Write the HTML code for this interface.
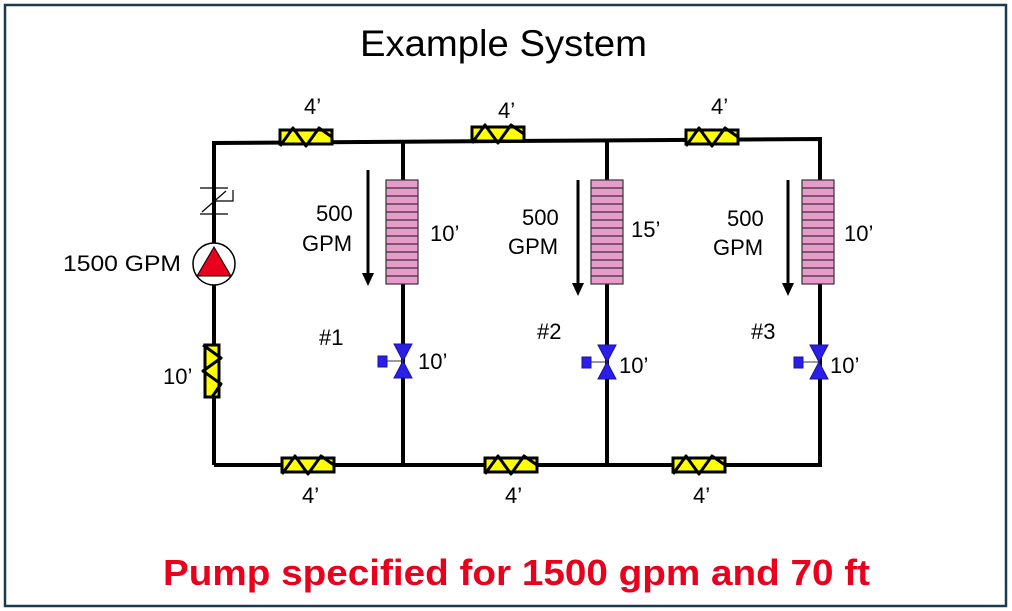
<!DOCTYPE html>
<html><head><meta charset="utf-8"><style>
html,body{margin:0;padding:0;background:#fff;}
svg{display:block;}
text{font-family:"Liberation Sans",Arial,sans-serif;}
</style></head><body>
<svg width="1012" height="611" viewBox="0 0 1012 611" xmlns="http://www.w3.org/2000/svg">
<defs>
<g id="fitH">
  <rect x="-26" y="-7" width="52" height="14" fill="#ffff00" stroke="#000" stroke-width="3"/>
  <polyline points="-26,9 -13,-9 0,9 13,-9 26,0" fill="none" stroke="#000" stroke-width="3" stroke-linejoin="round"/>
</g>
<g id="coil">
  <rect x="0" y="0" width="32" height="104" fill="#e89acb" stroke="#333" stroke-width="1.2"/>
  <g stroke="#333" stroke-width="1.2">
    <line x1="0" y1="8" x2="32" y2="8"/><line x1="0" y1="16" x2="32" y2="16"/><line x1="0" y1="24" x2="32" y2="24"/>
    <line x1="0" y1="32" x2="32" y2="32"/><line x1="0" y1="40" x2="32" y2="40"/><line x1="0" y1="48" x2="32" y2="48"/>
    <line x1="0" y1="56" x2="32" y2="56"/><line x1="0" y1="64" x2="32" y2="64"/><line x1="0" y1="72" x2="32" y2="72"/>
    <line x1="0" y1="80" x2="32" y2="80"/><line x1="0" y1="88" x2="32" y2="88"/><line x1="0" y1="96" x2="32" y2="96"/>
  </g>
</g>
<g id="valve">
  <polygon points="-9,-17 9,-17 0,0" fill="#2a1ee8" stroke="#1a12a0" stroke-width="1"/>
  <polygon points="-9,17 9,17 0,0" fill="#2a1ee8" stroke="#1a12a0" stroke-width="1"/>
  <line x1="-18" y1="0" x2="0" y2="0" stroke="#333" stroke-width="1"/>
  <rect x="-25" y="-5" width="9" height="11" fill="#2a1ee8" stroke="#1a12a0" stroke-width="1"/>
</g>
<g id="arrow">
  <line x1="0" y1="0" x2="0" y2="105" stroke="#000" stroke-width="3"/>
  <polygon points="-6,103 6,103 0,116" fill="#000"/>
</g>
</defs>
<rect x="5" y="5" width="1001" height="601" fill="#fff" stroke="#1a3a50" stroke-width="2.5"/>
<text x="360" y="56" font-size="37" textLength="287" lengthAdjust="spacingAndGlyphs">Example System</text>
<g stroke="#000" stroke-width="4" fill="none" stroke-linejoin="miter">
  <polyline points="214,465 214,143 820,139 820,465 214,465"/>
  <line x1="403" y1="142" x2="403" y2="465"/>
  <line x1="607" y1="140" x2="607" y2="465"/>
</g>
<use href="#fitH" x="306" y="137"/>
<use href="#fitH" x="498" y="134"/>
<use href="#fitH" x="712" y="137"/>
<use href="#fitH" x="308" y="465"/>
<use href="#fitH" x="511" y="465"/>
<use href="#fitH" x="699" y="465"/>
<g transform="translate(212,371) rotate(90)"><use href="#fitH"/></g>
<g stroke="#000" stroke-width="1.2" fill="none">
  <line x1="200" y1="188" x2="228" y2="188"/>
  <line x1="200" y1="214" x2="228" y2="214"/>
  <line x1="202" y1="212" x2="226" y2="191"/>
  <polyline points="216,201 233,201 233,190"/>
</g>
<circle cx="214" cy="264" r="21" fill="#fff" stroke="#000" stroke-width="1.5"/>
<polygon points="214,247 231,276 197,276" fill="#e8001c" stroke="#000" stroke-width="1"/>
<use href="#coil" x="386" y="180"/>
<use href="#coil" x="591" y="180"/>
<use href="#coil" x="802" y="180"/>
<use href="#valve" x="403" y="361"/>
<use href="#valve" x="607" y="362"/>
<use href="#valve" x="819" y="362"/>
<use href="#arrow" x="368" y="170"/>
<use href="#arrow" x="578" y="180"/>
<use href="#arrow" x="788" y="180"/>
<g font-size="22" fill="#000">
  <text x="304" y="114">4’</text>
  <text x="498" y="118">4’</text>
  <text x="711" y="114">4’</text>
  <text x="302" y="503">4’</text>
  <text x="505" y="503">4’</text>
  <text x="693" y="503">4’</text>
  <text x="163" y="384">10’</text>
  <text x="63" y="271" textLength="118" lengthAdjust="spacingAndGlyphs">1500 GPM</text>
  <text x="316" y="221">500</text>
  <text x="302" y="251">GPM</text>
  <text x="522" y="225">500</text>
  <text x="508" y="254">GPM</text>
  <text x="727" y="226">500</text>
  <text x="713" y="255">GPM</text>
  <text x="430" y="241">10’</text>
  <text x="631" y="237">15’</text>
  <text x="844" y="241">10’</text>
  <text x="319" y="345">#1</text>
  <text x="537" y="339">#2</text>
  <text x="751" y="339">#3</text>
  <text x="418" y="369">10’</text>
  <text x="619" y="373">10’</text>
  <text x="830" y="373">10’</text>
</g>
<text x="163" y="585" font-size="36" font-weight="bold" fill="#e8001c" textLength="707" lengthAdjust="spacingAndGlyphs">Pump specified for 1500 gpm and 70 ft</text>
</svg>
</body></html>
